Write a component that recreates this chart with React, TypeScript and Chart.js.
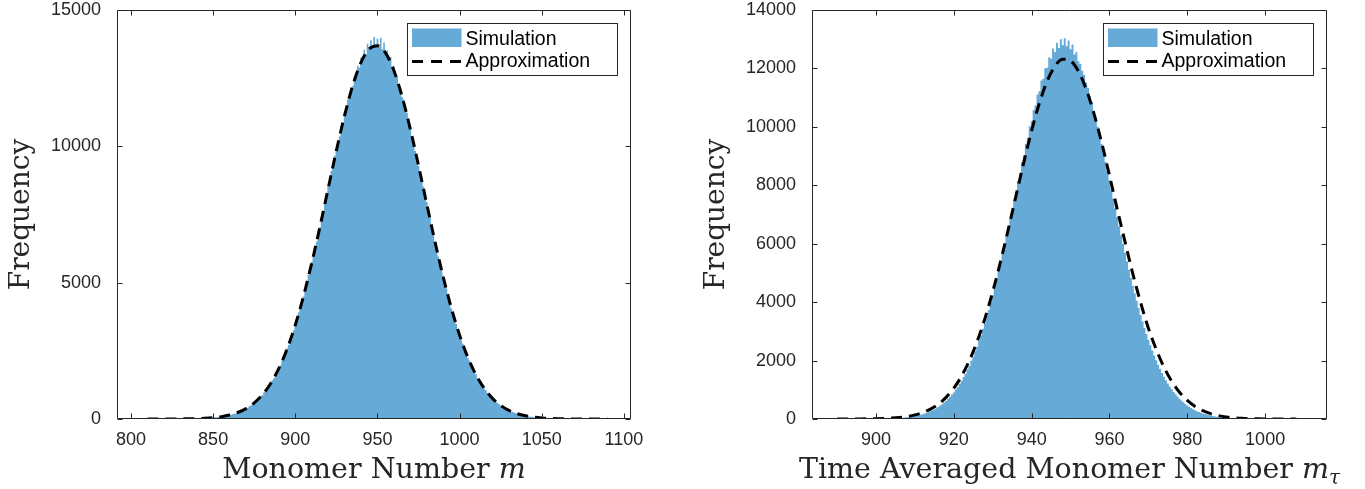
import React, { useEffect, useRef } from 'react';
import { Chart, registerables } from 'chart.js';

Chart.register(...registerables);

const BLUE = 'rgb(102,170,215)';
const AXIS = '#262626';

// ---------- Left panel data ----------
const LEFT_X_TICKS = [800, 850, 900, 950, 1000, 1050, 1100];
const LEFT_Y_TICKS = [0, 5000, 10000, 15000];
const LEFT_X_MIN = 791.5;
const LEFT_X_MAX = 1104.3;
const LEFT_Y_MAX = 15000;
const LEFT_HIST_START = 850;
const LEFT_HIST_BIN = 1;
const LEFT_HIST = [
  44, 61, 57, 74, 79, 81, 103, 99, 124, 128,
  152, 157, 186, 192, 209, 251, 258, 296, 311, 361,
  376, 409, 471, 493, 556, 584, 633, 718, 752, 839,
  879, 982, 1031, 1118, 1240, 1297, 1421, 1498, 1649, 1719,
  1878, 1972, 2151, 2247, 2433, 2598, 2712, 2941, 3065, 3247,
  3498, 3641, 3902, 4050, 4331, 4489, 4790, 4962, 5281, 5452,
  5769, 5961, 6310, 6498, 6845, 7031, 7399, 7602, 7958, 8151,
  8533, 8720, 9101, 9277, 9655, 9824, 10210, 10361, 10739, 10868,
  11240, 11352, 11722, 11801, 12163, 12210, 12580, 12571, 12942, 12880,
  13260, 13150, 13540, 13390, 13760, 13580, 13890, 13650, 14010, 13700,
  13950, 13640, 13980, 13560, 13810, 13420, 13520, 13170, 13280, 12900,
  12950, 12600, 12560, 12230, 12140, 11810, 11720, 11370, 11230, 10870,
  10720, 10350, 10200, 9830, 9660, 9282, 9090, 8716, 8530, 8160,
  7955, 7590, 7398, 7041, 6840, 6497, 6301, 5960, 5772, 5455,
  5262, 4958, 4785, 4496, 4322, 4049, 3890, 3634, 3484, 3249,
  3107, 2886, 2760, 2552, 2437, 2250, 2144, 1971, 1878, 1720,
  1639, 1496, 1420, 1294, 1228, 1113, 1054, 953, 903, 815,
  768, 691, 652, 584, 550, 490, 464, 411, 387, 342,
  323, 284, 268, 234, 221, 193, 181, 157, 149, 127,
  121, 103, 98, 82, 79, 66, 64, 53, 51,
];
const LEFT_APPROX_START = 810;
const LEFT_APPROX_STEP = 5;
const LEFT_APPROX = [
  0.2, 0.5, 1, 2, 4, 8, 15, 27, 49, 85,
  145, 238, 380, 589, 889, 1303, 1854, 2566, 3448, 4505,
  5717, 7051, 8450, 9841, 11134, 12241, 13077, 13574, 13692, 13419,
  12781, 11826, 10634, 9291, 7887, 6506, 5215, 4062, 3074, 2260,
  1615, 1122, 757, 496, 316, 196, 118, 69, 39, 22,
  12, 6, 3, 1.5, 0.7, 0.3, 0.1,
];

// ---------- Right panel data ----------
const RIGHT_X_TICKS = [900, 920, 940, 960, 980, 1000];
const RIGHT_Y_TICKS = [0, 2000, 4000, 6000, 8000, 10000, 12000, 14000];
const RIGHT_X_MIN = 883.55;
const RIGHT_X_MAX = 1015.9;
const RIGHT_Y_MAX = 14000;
const RIGHT_HIST_START = 907;
const RIGHT_HIST_BIN = 0.5;
const RIGHT_HIST = [
  45, 53, 59, 70, 77, 90, 100, 116, 128, 148,
  164, 188, 208, 237, 262, 298, 327, 370, 407, 459,
  501, 564, 615, 689, 749, 836, 906, 1008, 1089, 1208,
  1300, 1436, 1542, 1698, 1817, 1990, 2128, 2320, 2474, 2690,
  2858, 3092, 3280, 3536, 3740, 4015, 4236, 4530, 4765, 5078,
  5325, 5655, 5910, 6258, 6520, 6880, 7140, 7510, 7770, 8150,
  8400, 8790, 9020, 9410, 9620, 10010, 10190, 10580, 10730, 11110,
  11220, 11590, 11650, 12010, 12020, 12380, 12330, 12680, 12560, 12880,
  12700, 13000, 12790, 13030, 12760, 12960, 12660, 12820, 12480, 12560,
  12250, 12150, 11920, 11780, 11520, 11340, 11060, 10850, 10550, 10300,
  10000, 9720, 9410, 9115, 8800, 8492, 8174, 7858, 7541, 7226,
  6911, 6600, 6291, 5988, 5690, 5398, 5112, 4834, 4563, 4301,
  4046, 3800, 3563, 3336, 3119, 2909, 2711, 2521, 2341, 2170,
  2008, 1855, 1711, 1576, 1449, 1330, 1219, 1115, 1018, 928,
  845, 768, 697, 631, 571, 515, 464, 418, 375, 336,
  301, 269, 240, 214, 190, 169, 150, 133, 117, 103,
  91, 80, 70, 62, 54, 47, 41, 36, 31,
];
const RIGHT_APPROX_START = 890;
const RIGHT_APPROX_STEP = 2;
const RIGHT_APPROX = [
  0.4, 0.8, 1.6, 3, 5.6, 10, 18, 31, 53, 87,
  140, 220, 338, 506, 740, 1055, 1471, 2001, 2657, 3445,
  4360, 5387, 6498, 7652, 8796, 9873, 10817, 11571, 12082, 12316,
  12258, 11909, 11296, 10459, 9453, 8339, 7178, 6060, 4969, 3986,
  3109, 2387, 1772, 1290, 917, 637, 431, 285, 184, 116,
  71, 43, 25, 14, 8, 4, 2, 1, 0.5, 0.3,
];

const LEGEND_LABELS = ['Simulation', 'Approximation'];
const Y_TITLE = 'Frequency';

type TitlePart = { text: string; italic?: boolean; sub?: boolean };

const LEFT_X_TITLE: TitlePart[] = [
  { text: 'Monomer Number ' },
  { text: 'm', italic: true },
];
const RIGHT_X_TITLE: TitlePart[] = [
  { text: 'Time Averaged Monomer Number ' },
  { text: 'm', italic: true },
  { text: 'τ', italic: true, sub: true },
];

type PanelSpec = {
  xTicks: number[];
  yTicks: number[];
  xMin: number;
  xMax: number;
  yMax: number;
  histStart: number;
  histBin: number;
  hist: number[];
  approxStart: number;
  approxStep: number;
  approx: number[];
  xTitle: TitlePart[];
  rightPad: number;
};

const toPoints = (start: number, step: number, vals: number[]) =>
  vals.map((v, i) => ({ x: start + i * step, y: v }));

const TITLE_SIZE = 28.5;
const SUB_SIZE = 20;

function partFont(p: TitlePart) {
  const size = p.sub ? SUB_SIZE : TITLE_SIZE;
  return `${p.italic ? 'italic ' : ''}${size}px "DejaVu Serif", serif`;
}

const frameAndLegend = {
  id: 'frameAndLegend',
  afterDraw(chart: any, _args: any, opts: any) {
    const { ctx, chartArea: a, scales } = chart;
    const xs = scales.x;
    const ys = scales.y;
    ctx.save();
    ctx.strokeStyle = AXIS;
    ctx.lineWidth = 1;
    ctx.setLineDash([]);
    const L = Math.round(a.left) + 0.5;
    const R = Math.round(a.right) - 0.5;
    const T = Math.round(a.top) + 0.5;
    const B = Math.round(a.bottom) - 0.5;
    ctx.beginPath();
    ctx.rect(L, T, R - L, B - T);
    ctx.stroke();
    const tl = 5;
    ctx.beginPath();
    xs.ticks.forEach((t: any) => {
      const px = Math.round(xs.getPixelForValue(t.value)) + 0.5;
      ctx.moveTo(px, B);
      ctx.lineTo(px, B - tl);
      ctx.moveTo(px, T);
      ctx.lineTo(px, T + tl);
    });
    ys.ticks.forEach((t: any) => {
      const py = Math.round(ys.getPixelForValue(t.value)) + 0.5;
      ctx.moveTo(L, py);
      ctx.lineTo(L + tl, py);
      ctx.moveTo(R, py);
      ctx.lineTo(R - tl, py);
    });
    ctx.stroke();

    // x-axis title with italic / subscript parts
    const parts: TitlePart[] = (opts && opts.titleParts) || [];
    let total = 0;
    const widths = parts.map((p) => {
      ctx.font = partFont(p);
      const w = ctx.measureText(p.text).width;
      total += w;
      return w;
    });
    let tx = (a.left + a.right) / 2 - total / 2;
    const baseY = 478;
    ctx.fillStyle = AXIS;
    ctx.textAlign = 'left';
    ctx.textBaseline = 'alphabetic';
    parts.forEach((p, i) => {
      ctx.font = partFont(p);
      ctx.fillText(p.text, tx, p.sub ? baseY + 6 : baseY);
      tx += widths[i];
    });

    // legend box
    const bw = 210;
    const bh = 52;
    const bx = Math.round(a.right - 14 - bw) + 0.5;
    const by = Math.round(a.top + 13) + 0.5;
    ctx.fillStyle = '#ffffff';
    ctx.fillRect(bx, by, bw, bh);
    ctx.strokeStyle = AXIS;
    ctx.lineWidth = 1;
    ctx.strokeRect(bx, by, bw, bh);
    ctx.fillStyle = BLUE;
    ctx.fillRect(bx + 4.5, by + 5, 49.5, 18.5);
    ctx.strokeStyle = '#000000';
    ctx.lineWidth = 3;
    ctx.setLineDash([11, 8]);
    ctx.beginPath();
    ctx.moveTo(bx + 4.5, by + 38);
    ctx.lineTo(bx + 54, by + 38);
    ctx.stroke();
    ctx.setLineDash([]);
    ctx.fillStyle = '#000000';
    ctx.font = '19.5px "Liberation Sans", Arial, sans-serif';
    ctx.fillText(LEGEND_LABELS[0], bx + 58, by + 21);
    ctx.fillText(LEGEND_LABELS[1], bx + 58, by + 43.5);
    ctx.restore();
  },
};

function makeConfig(p: PanelSpec): any {
  const tickFont = { family: '"Liberation Sans", Arial, sans-serif', size: 18 };
  return {
    type: 'line',
    data: {
      datasets: [
        {
          label: LEGEND_LABELS[1],
          data: toPoints(p.approxStart, p.approxStep, p.approx),
          borderColor: '#000000',
          borderWidth: 3,
          borderDash: [11, 7],
          fill: false,
          pointRadius: 0,
          cubicInterpolationMode: 'monotone',
          order: 1,
        },
        {
          label: LEGEND_LABELS[0],
          data: toPoints(p.histStart, p.histBin, p.hist),
          borderColor: 'rgba(0,0,0,0)',
          borderWidth: 0,
          backgroundColor: BLUE,
          fill: 'origin',
          stepped: 'middle',
          pointRadius: 0,
          order: 2,
        },
      ],
    },
    options: {
      responsive: false,
      animation: false,
      events: [],
      layout: { padding: { top: 10, right: p.rightPad, bottom: 0, left: 0 } },
      plugins: {
        legend: { display: false },
        tooltip: { enabled: false },
        frameAndLegend: { titleParts: p.xTitle },
      },
      scales: {
        x: {
          type: 'linear',
          min: p.xMin,
          max: p.xMax,
          afterBuildTicks: (s: any) => {
            s.ticks = p.xTicks.map((v) => ({ value: v }));
          },
          afterFit: (s: any) => {
            s.height = 70;
            s.paddingLeft = 0;
            s.paddingRight = 0;
          },
          grid: { display: false, drawTicks: false },
          border: { display: false },
          ticks: {
            font: tickFont,
            color: AXIS,
            padding: 10,
            maxRotation: 0,
            autoSkip: false,
            callback: (v: any) => String(v),
          },
          title: { display: false },
        },
        y: {
          type: 'linear',
          min: 0,
          max: p.yMax,
          afterBuildTicks: (s: any) => {
            s.ticks = p.yTicks.map((v) => ({ value: v }));
          },
          afterFit: (s: any) => {
            s.width = 117;
            s.paddingTop = 0;
            s.paddingBottom = 0;
          },
          grid: { display: false, drawTicks: false },
          border: { display: false },
          ticks: {
            font: tickFont,
            color: AXIS,
            padding: 16,
            autoSkip: false,
            callback: (v: any) => String(v),
          },
          title: {
            display: true,
            text: Y_TITLE,
            font: { family: '"DejaVu Serif", serif', size: 28 },
            color: AXIS,
            padding: { top: 5, bottom: 0 },
          },
        },
      },
    },
    plugins: [frameAndLegend],
  };
}

function Panel({ spec, left, width }: { spec: PanelSpec; left: number; width: number }) {
  const ref = useRef<HTMLCanvasElement | null>(null);
  useEffect(() => {
    if (!ref.current) return;
    const chart = new Chart(ref.current, makeConfig(spec));
    return () => chart.destroy();
  }, [spec]);
  return (
    <canvas
      ref={ref}
      width={width}
      height={489}
      style={{ position: 'absolute', left, top: 0, width, height: 489 }}
    />
  );
}

const LEFT_SPEC: PanelSpec = {
  xTicks: LEFT_X_TICKS,
  yTicks: LEFT_Y_TICKS,
  xMin: LEFT_X_MIN,
  xMax: LEFT_X_MAX,
  yMax: LEFT_Y_MAX,
  histStart: LEFT_HIST_START,
  histBin: LEFT_HIST_BIN,
  hist: LEFT_HIST,
  approxStart: LEFT_APPROX_START,
  approxStep: LEFT_APPROX_STEP,
  approx: LEFT_APPROX,
  xTitle: LEFT_X_TITLE,
  rightPad: 49,
};

const RIGHT_SPEC: PanelSpec = {
  xTicks: RIGHT_X_TICKS,
  yTicks: RIGHT_Y_TICKS,
  xMin: RIGHT_X_MIN,
  xMax: RIGHT_X_MAX,
  yMax: RIGHT_Y_MAX,
  histStart: RIGHT_HIST_START,
  histBin: RIGHT_HIST_BIN,
  hist: RIGHT_HIST,
  approxStart: RIGHT_APPROX_START,
  approxStep: RIGHT_APPROX_STEP,
  approx: RIGHT_APPROX,
  xTitle: RIGHT_X_TITLE,
  rightPad: 38,
};

export default function App() {
  return (
    <div
      style={{
        position: 'absolute',
        left: 0,
        top: 0,
        width: 1365,
        height: 489,
        background: '#ffffff',
        overflow: 'hidden',
      }}
    >
      <Panel spec={LEFT_SPEC} left={0} width={680} />
      <Panel spec={RIGHT_SPEC} left={695} width={670} />
    </div>
  );
}
